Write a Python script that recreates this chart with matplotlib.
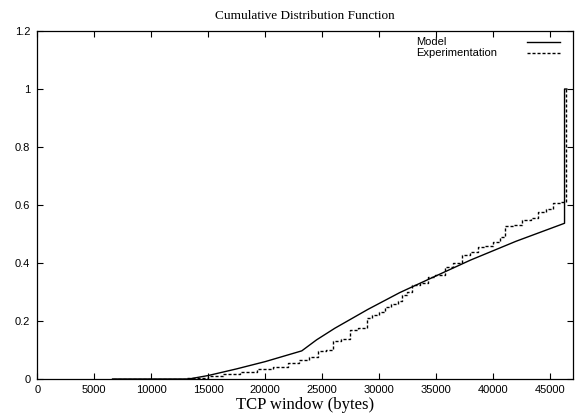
import matplotlib
matplotlib.use("Agg")
import matplotlib.pyplot as plt
from matplotlib.ticker import FuncFormatter

# model curve (bytes, cdf)
model_x = [6600, 13300, 15000, 17500, 20000, 23200, 24500, 26100, 29000, 31800,
           35000, 38000, 42000, 46250, 46250, 46450]
model_y = [0, 0, 0.012, 0.035, 0.06, 0.097, 0.135, 0.175, 0.24, 0.298,
           0.356, 0.41, 0.475, 0.537, 1.0, 1.0]

# experimental staircase (step edges, value after the step)
exp_x = [6600, 13100, 15000, 16300, 17800, 19300, 20700, 22000, 23000, 23800,
         24600, 25300, 25960, 26600, 27430, 28100, 28950, 29400, 30000, 30500,
         31000, 31600, 32000, 32400, 32850, 33600, 34250, 34900, 35760, 36500,
         37230, 38000, 38700, 39300, 40000, 40600, 41030, 41800, 42490, 43300,
         43950, 44600, 45260, 45900, 46400, 46450]
exp_y = [0, 0.004, 0.01, 0.017, 0.025, 0.034, 0.042, 0.055, 0.066, 0.077,
         0.097, 0.100, 0.132, 0.137, 0.169, 0.175, 0.209, 0.222, 0.230, 0.249,
         0.258, 0.270, 0.290, 0.300, 0.324, 0.332, 0.351, 0.360, 0.387, 0.400,
         0.428, 0.439, 0.456, 0.460, 0.473, 0.490, 0.527, 0.532, 0.548, 0.556,
         0.577, 0.585, 0.606, 0.610, 1.0, 1.0]

x_ticks = list(range(0, 45001, 5000))
y_ticks = [0, 0.2, 0.4, 0.6, 0.8, 1.0, 1.2]

fig = plt.figure(figsize=(5.81, 4.19), dpi=100)
ax = fig.add_axes([0.0642, 0.0955, 0.9212, 0.8305])

ax.plot(model_x, model_y, color="black", lw=1.0)
ax.step(exp_x, exp_y, where="post", color="black", lw=1.0, linestyle=(0, (2.2, 1.4)))

ax.set_xlim(0, 46950)
ax.set_ylim(0, 1.2)
ax.set_xticks(x_ticks)
ax.set_yticks(y_ticks)
ax.xaxis.set_major_formatter(FuncFormatter(lambda v, p: "%g" % v))
ax.yaxis.set_major_formatter(FuncFormatter(lambda v, p: "%g" % v))
ax.tick_params(direction="in", length=4.5, width=0.8, top=True, right=True,
               labelsize=8)
ax.tick_params(axis="y", pad=5)
ax.tick_params(axis="x", pad=4)
for lab in ax.get_xticklabels() + ax.get_yticklabels():
    lab.set_family("Liberation Sans")
for s in ax.spines.values():
    s.set_linewidth(0.9)

ax.set_title("Cumulative Distribution Function", family="Liberation Serif",
             fontsize=9.5, pad=8.5)
ax.set_xlabel("TCP window (bytes)", family="Liberation Serif", fontsize=12, labelpad=2)

# gnuplot-style key: text left, line sample right
ax.text(0.7076, 0.969, "Model", transform=ax.transAxes, family="Liberation Sans",
        fontsize=8, va="center", ha="left")
ax.text(0.7076, 0.936, "Experimentation", transform=ax.transAxes,
        family="Liberation Sans", fontsize=8, va="center", ha="left")
ax.plot([0.9144, 0.9766], [0.969, 0.969], transform=ax.transAxes, color="black", lw=1.0)
ax.plot([0.9144, 0.9766], [0.936, 0.936], transform=ax.transAxes, color="black",
        lw=1.0, linestyle=(0, (2.2, 1.4)))

fig.savefig("out.png", dpi=100)
